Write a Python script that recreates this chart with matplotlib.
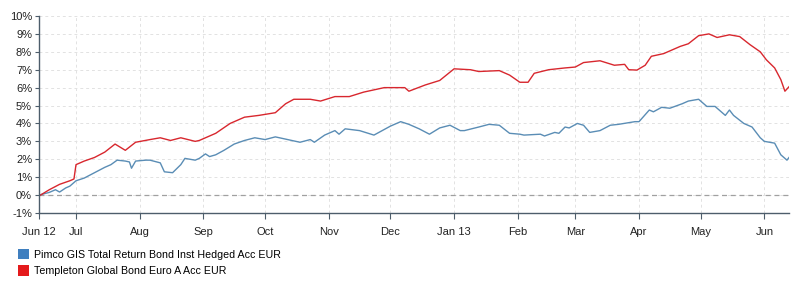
import numpy as np
import pandas as pd
import matplotlib
matplotlib.use("Agg")
import matplotlib.pyplot as plt
import matplotlib.dates as mdates
from matplotlib.patches import Patch

plt.rcParams['font.family'] = ['Liberation Sans', 'DejaVu Sans']

# Templeton Global Bond Euro A Acc EUR (cumulative return, %)
templeton_dates = [
    "2012-06-13", "2012-06-18", "2012-06-23", "2012-06-28", "2012-06-30", "2012-07-01",
    "2012-07-05", "2012-07-10", "2012-07-15", "2012-07-20", "2012-07-25", "2012-07-30",
    "2012-08-06", "2012-08-11", "2012-08-16", "2012-08-21", "2012-08-28", "2012-08-30",
    "2012-09-07", "2012-09-14", "2012-09-21", "2012-09-28", "2012-10-06", "2012-10-11",
    "2012-10-15", "2012-10-23", "2012-10-28", "2012-11-04", "2012-11-11", "2012-11-18",
    "2012-11-28", "2012-12-08", "2012-12-10", "2012-12-18", "2012-12-25", "2013-01-01",
    "2013-01-09", "2013-01-13", "2013-01-23", "2013-01-28", "2013-02-02", "2013-02-06",
    "2013-02-09", "2013-02-16", "2013-02-24", "2013-03-01", "2013-03-05", "2013-03-13",
    "2013-03-20", "2013-03-25", "2013-03-27", "2013-03-31", "2013-04-04", "2013-04-07",
    "2013-04-13", "2013-04-21", "2013-04-25", "2013-04-30", "2013-05-05", "2013-05-09",
    "2013-05-15", "2013-05-20", "2013-05-25", "2013-05-30", "2013-06-02", "2013-06-06",
    "2013-06-09", "2013-06-11", "2013-06-13",
]
templeton = [
    -0.05, 0.3, 0.6, 0.8, 0.9, 1.7,
    1.9, 2.1, 2.4, 2.85, 2.5, 2.95,
    3.1, 3.2, 3.05, 3.2, 3.0, 3.05,
    3.45, 4.0, 4.35, 4.45, 4.6, 5.1,
    5.35, 5.35, 5.25, 5.5, 5.5, 5.75,
    6.0, 6.0, 5.8, 6.15, 6.4, 7.05,
    7.0, 6.9, 6.95, 6.7, 6.3, 6.3,
    6.8, 7.0, 7.1, 7.15, 7.4, 7.5,
    7.25, 7.3, 7.0, 6.98, 7.25, 7.75,
    7.9, 8.3, 8.45, 8.9, 9.0, 8.8,
    8.95, 8.85, 8.4, 8.0, 7.55, 7.1,
    6.45, 5.8, 6.05,
]

# Pimco GIS Total Return Bond Inst Hedged Acc EUR (cumulative return, %)
pimco_dates = [
    "2012-06-13", "2012-06-18", "2012-06-21", "2012-06-23", "2012-06-26", "2012-06-28",
    "2012-07-01", "2012-07-05", "2012-07-10", "2012-07-15", "2012-07-18", "2012-07-21",
    "2012-07-25", "2012-07-27", "2012-07-28", "2012-07-30", "2012-08-04", "2012-08-06",
    "2012-08-11", "2012-08-13", "2012-08-17", "2012-08-21", "2012-08-23", "2012-08-28",
    "2012-08-30", "2012-09-02", "2012-09-04", "2012-09-07", "2012-09-11", "2012-09-16",
    "2012-09-21", "2012-09-26", "2012-10-01", "2012-10-06", "2012-10-08", "2012-10-18",
    "2012-10-23", "2012-10-25", "2012-10-30", "2012-11-04", "2012-11-06", "2012-11-09",
    "2012-11-16", "2012-11-23", "2012-12-01", "2012-12-06", "2012-12-10", "2012-12-15",
    "2012-12-20", "2012-12-25", "2012-12-30", "2013-01-04", "2013-01-06", "2013-01-13",
    "2013-01-18", "2013-01-23", "2013-01-28", "2013-02-02", "2013-02-04", "2013-02-12",
    "2013-02-14", "2013-02-19", "2013-02-21", "2013-02-24", "2013-02-26", "2013-03-02",
    "2013-03-05", "2013-03-08", "2013-03-13", "2013-03-18", "2013-03-22", "2013-03-30",
    "2013-04-01", "2013-04-06", "2013-04-08", "2013-04-12", "2013-04-16", "2013-04-22",
    "2013-04-25", "2013-04-30", "2013-05-04", "2013-05-08", "2013-05-13", "2013-05-15",
    "2013-05-17", "2013-05-22", "2013-05-26", "2013-05-30", "2013-06-01", "2013-06-06",
    "2013-06-09", "2013-06-12", "2013-06-13",
]
pimco = [
    0.0, 0.15, 0.3, 0.17, 0.4, 0.5,
    0.8, 0.95, 1.25, 1.55, 1.7, 1.95,
    1.9, 1.85, 1.5, 1.9, 1.95, 1.95,
    1.8, 1.3, 1.25, 1.7, 2.05, 1.95,
    2.05, 2.3, 2.15, 2.25, 2.5, 2.85,
    3.05, 3.2, 3.1, 3.25, 3.2, 2.95,
    3.1, 2.95, 3.35, 3.6, 3.4, 3.7,
    3.6, 3.35, 3.85, 4.1, 3.95, 3.7,
    3.4, 3.75, 3.9, 3.6, 3.6, 3.8,
    3.95, 3.9, 3.45, 3.4, 3.35, 3.4,
    3.3, 3.5, 3.45, 3.8, 3.75, 4.0,
    3.9, 3.5, 3.6, 3.9, 3.95, 4.1,
    4.1, 4.75, 4.65, 4.9, 4.85, 5.1,
    5.25, 5.35, 4.95, 4.95, 4.45, 4.75,
    4.45, 4.0, 3.8, 3.2, 3.0, 2.9,
    2.25, 1.95, 2.1,
]

month_ticks = ["2012-06-13", "2012-07-01", "2012-08-01", "2012-09-01", "2012-10-01",
               "2012-11-01", "2012-12-01", "2013-01-01", "2013-02-01", "2013-03-01",
               "2013-04-01", "2013-05-01", "2013-06-01"]
month_labels = ["Jun 12", "Jul", "Aug", "Sep", "Oct", "Nov", "Dec", "Jan 13",
                "Feb", "Mar", "Apr", "May", "Jun"]
series_names = ["Pimco GIS Total Return Bond Inst Hedged Acc EUR",
                "Templeton Global Bond Euro A Acc EUR"]

blue_line = "#5a8db5"
red_line = "#d8272e"
axis_col = "#4d5d6b"

fig = plt.figure(figsize=(8.03, 2.84), dpi=100)
ax = fig.add_axes([0.0486, 0.25, 0.934, 0.6937])

ax.plot(pd.to_datetime(pimco_dates), pimco, color=blue_line, lw=1.0)
ax.plot(pd.to_datetime(templeton_dates), templeton, color=red_line, lw=1.0)

ax.set_xlim(pd.Timestamp("2012-06-13"), pd.Timestamp("2013-06-13"))
ax.set_ylim(-1, 10)
ax.set_yticks(range(-1, 11))
ax.set_yticklabels([f"{v}%" for v in range(-1, 11)])
ax.set_xticks(pd.to_datetime(month_ticks))
ax.set_xticklabels(month_labels)

ax.axhline(0, color="#a0a0a0", lw=0.9, ls=(0, (4, 3)), zorder=1)
ax.grid(True, color="#e2e2e2", lw=0.7, ls=(0, (3, 3)))
ax.set_axisbelow(True)

for s in ["top", "right"]:
    ax.spines[s].set_visible(False)
for s in ["left", "bottom"]:
    ax.spines[s].set_color(axis_col)
    ax.spines[s].set_linewidth(1.0)

ax.tick_params(axis="x", direction="out", length=4, color=axis_col,
               labelsize=8, pad=6, labelcolor="#222222")
ax.tick_params(axis="y", direction="out", length=3, color=axis_col,
               labelsize=8, pad=2, labelcolor="#222222")

handles = [Patch(facecolor="#3f7fbf", edgecolor="none"),
           Patch(facecolor="#e41a1c", edgecolor="none")]
fig.legend(handles, series_names, loc="upper left", bbox_to_anchor=(0.022, 0.124),
           frameon=False, fontsize=7.7, handlelength=1.1, handleheight=1.1,
           handletextpad=0.45, labelspacing=0.55, borderaxespad=0, borderpad=0)

fig.savefig("out.png", dpi=100)
